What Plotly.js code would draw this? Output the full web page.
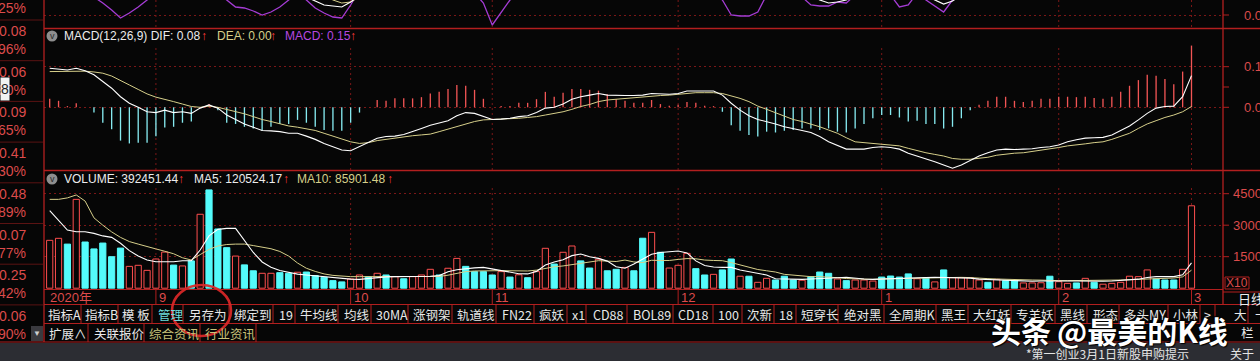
<!DOCTYPE html>
<html><head><meta charset="utf-8">
<script src="https://cdn.plot.ly/plotly-3.0.1.min.js"></script>
<style>html,body{margin:0;padding:0;background:#060606;overflow:hidden}#chart{width:1260px;height:361px}</style>
</head><body><div id="chart"></div>
<script>
const N = null;
// ---------------- DATA ----------------
const dates = [
"2020-08-14","2020-08-17","2020-08-18","2020-08-19","2020-08-20","2020-08-21","2020-08-24","2020-08-25","2020-08-26","2020-08-27","2020-08-28","2020-08-31",
"2020-09-01","2020-09-02","2020-09-03","2020-09-04","2020-09-07","2020-09-08","2020-09-09","2020-09-10","2020-09-11","2020-09-14","2020-09-15","2020-09-16","2020-09-17","2020-09-18","2020-09-21","2020-09-22","2020-09-23","2020-09-24","2020-09-25","2020-09-28","2020-09-29","2020-09-30",
"2020-10-09","2020-10-12","2020-10-13","2020-10-14","2020-10-15","2020-10-16","2020-10-19","2020-10-20","2020-10-21","2020-10-22","2020-10-23","2020-10-26","2020-10-27","2020-10-28","2020-10-29","2020-10-30",
"2020-11-02","2020-11-03","2020-11-04","2020-11-05","2020-11-06","2020-11-09","2020-11-10","2020-11-11","2020-11-12","2020-11-13","2020-11-16","2020-11-17","2020-11-18","2020-11-19","2020-11-20","2020-11-23","2020-11-24","2020-11-25","2020-11-26","2020-11-27","2020-11-30",
"2020-12-01","2020-12-02","2020-12-03","2020-12-04","2020-12-07","2020-12-08","2020-12-09","2020-12-10","2020-12-11","2020-12-14","2020-12-15","2020-12-16","2020-12-17","2020-12-18","2020-12-21","2020-12-22","2020-12-23","2020-12-24","2020-12-25","2020-12-28","2020-12-29","2020-12-30","2020-12-31",
"2021-01-04","2021-01-05","2021-01-06","2021-01-07","2021-01-08","2021-01-11","2021-01-12","2021-01-13","2021-01-14","2021-01-15","2021-01-18","2021-01-19","2021-01-20","2021-01-21","2021-01-22","2021-01-25","2021-01-26","2021-01-27","2021-01-28","2021-01-29",
"2021-02-01","2021-02-02","2021-02-03","2021-02-04","2021-02-05","2021-02-08","2021-02-09","2021-02-10","2021-02-18","2021-02-19","2021-02-22","2021-02-23","2021-02-24","2021-02-25","2021-02-26",
"2021-03-01"];

const monthLabels = ["2020年","9","10","11","12","1","2","3"];
const monthStarts = ["2020-08-14","2020-09-01","2020-10-09","2020-11-02","2020-12-01","2021-01-04","2021-02-01","2021-03-01"];

// 1 = up day (hollow red volume bar), 0 = down day (filled cyan)
const upDay = [1,1,0,1,0,0,0,0,0,1, 1,1,1,1,0,1,0,1,0,0, 0,1,0,0,1,1,0,0,1,0, 0,0,0,0,1,1,0,1,0,1,
 0,1,1,1,0,1,1,0,0,0, 0,1,0,1,0,1,1,0,1,1, 0,0,1,0,0,1,0,0,1,0, 1,1,1,0,0,1,0,0,1,0,
 1,1,0,0,0,1,0,0,0,1, 0,1,1,1,0,0,0,0,1,0, 1,0,1,1,1,1,0,1,0,0, 1,1,1,0,1,1,0,1,0,1,
 1,1,1,1,1,0,0,0,1,1];

const volume = [228000,237500,210000,423000,220000,187000,215000,150000,191000,104000,
 109000,85000,139000,172000,110000,106000,130000,352000,468000,282000,
 193000,153000,111000,83000,71000,71000,74000,71000,76000,77000,
 60000,52000,36000,30000,44000,63000,55000,71000,63000,55000,
 45000,55000,63000,90000,63000,95000,142000,104000,79000,79000,
 63000,79000,53000,64000,50000,79000,190000,115000,171000,201000,
 130000,96000,138000,83000,90000,99000,83000,238000,266000,171000,
 96000,109000,166000,93000,63000,66000,87000,139000,57000,57000,
 28000,47000,39000,57000,39000,38000,55000,77000,71000,44000,
 36000,39000,39000,34000,53000,58000,53000,68000,45000,50000,
 30000,87000,50000,50000,50000,39000,28000,42000,36000,36000,
 25000,25000,26000,57000,31000,23000,25000,47000,28000,19000,
 23000,28000,57000,55000,87000,44000,39000,39000,90000,392451.44];

const volMA5 = [369000,325000,277000,269000,269000,261000,249000,242000,214000,179000,
 153000,134000,126000,126000,126000,131000,131000,182000,249000,280000,
 285000,285000,230000,170000,125000,100000,84000,74000,67000,63000,
 59000,55000,50000,45000,43000,42000,47000,51000,54000,55000,
 55000,55000,56000,57000,60000,78000,88000,94000,97000,99000,
 92000,84000,79000,69000,68000,80000,110000,125000,135000,155000,
 163000,150000,142000,129000,102000,95000,115000,138000,162000,170000,
 174000,177000,168000,130000,108000,101000,99000,99000,87000,80000,
 72000,63000,45000,43000,42000,42000,44000,47000,48000,50000,
 52000,47000,44000,42000,44000,46000,48000,49000,50000,51000,
 52000,51000,50000,50000,48000,43000,41000,39000,39000,38000,
 36000,33000,34000,33000,33000,34000,34000,33000,33000,33000,
 34000,36000,40000,43000,51000,55000,55000,55000,64000,120524.17];

const volMA10 = [423000,423000,430000,444000,415000,335000,300000,268000,242000,222000,
 210000,197000,187000,176000,164000,145000,134000,160000,185000,201000,
 208000,210000,210000,203000,196000,188000,175000,153000,120000,95000,
 80000,68000,61000,57000,55000,55000,55000,55000,55000,55000,
 55000,55000,56000,58000,56000,62000,70000,79000,82000,83500,
 83500,83500,83000,82500,82000,86000,95000,102000,106000,112000,
 118000,125000,131000,129000,127000,134000,125000,122000,133000,132000,
 132000,137000,141000,140000,134000,132000,131000,122000,110000,98000,
 89000,83000,77000,66000,62000,56000,55000,55000,54000,50000,
 46000,44000,42500,42000,44000,45000,47000,48000,49500,50000,
 50500,51000,51700,51700,50500,47000,45500,43800,42000,40600,
 39500,39000,38500,36000,36000,36000,36000,36000,36000,36000,
 37500,39000,40500,42200,44000,45400,47000,48600,54000,85901.48];

const dif = [0.096,0.094,0.092,0.096,0.090,0.080,0.063,0.047,0.026,0.010,
 0.000,-0.011,-0.013,-0.007,-0.013,-0.011,-0.015,-0.002,0.006,-0.002,
 -0.019,-0.031,-0.041,-0.049,-0.057,-0.058,-0.060,-0.064,-0.064,-0.071,
 -0.079,-0.089,-0.097,-0.105,-0.107,-0.097,-0.085,-0.076,-0.072,-0.071,
 -0.067,-0.060,-0.052,-0.044,-0.038,-0.033,-0.021,-0.013,-0.015,-0.023,
 -0.030,-0.029,-0.027,-0.023,-0.021,-0.013,-0.002,0.000,0.008,0.020,
 0.026,0.030,0.034,0.030,0.029,0.029,0.029,0.030,0.034,0.033,
 0.032,0.034,0.040,0.040,0.040,0.040,0.030,0.010,-0.007,-0.021,
 -0.030,-0.035,-0.041,-0.048,-0.052,-0.057,-0.062,-0.072,-0.085,-0.094,
 -0.103,-0.103,-0.103,-0.099,-0.097,-0.099,-0.103,-0.113,-0.120,-0.126,
 -0.134,-0.142,-0.150,-0.142,-0.130,-0.120,-0.112,-0.105,-0.103,-0.104,
 -0.103,-0.102,-0.099,-0.097,-0.093,-0.085,-0.080,-0.076,-0.075,-0.074,
 -0.068,-0.057,-0.046,-0.031,-0.015,-0.002,0.002,0.003,0.026,0.078];

const dea = [0.088,0.088,0.089,0.089,0.089,0.087,0.084,0.077,0.067,0.055,
 0.044,0.033,0.025,0.020,0.014,0.008,0.002,0.000,0.003,0.000,
 -0.005,-0.011,-0.016,-0.023,-0.030,-0.035,-0.041,-0.046,-0.049,-0.053,
 -0.057,-0.064,-0.071,-0.077,-0.085,-0.089,-0.087,-0.082,-0.079,-0.076,
 -0.072,-0.070,-0.068,-0.066,-0.060,-0.054,-0.048,-0.041,-0.035,-0.031,
 -0.030,-0.030,-0.029,-0.027,-0.025,-0.023,-0.019,-0.015,-0.011,-0.005,
 0.002,0.007,0.014,0.018,0.020,0.022,0.024,0.026,0.028,0.029,
 0.030,0.032,0.034,0.036,0.036,0.036,0.034,0.028,0.022,0.014,
 0.003,-0.005,-0.013,-0.021,-0.030,-0.035,-0.041,-0.048,-0.056,-0.064,
 -0.075,-0.085,-0.087,-0.089,-0.091,-0.093,-0.095,-0.101,-0.107,-0.112,
 -0.116,-0.120,-0.126,-0.128,-0.128,-0.126,-0.123,-0.118,-0.115,-0.113,
 -0.112,-0.109,-0.105,-0.102,-0.099,-0.095,-0.093,-0.090,-0.087,-0.085,
 -0.079,-0.072,-0.064,-0.052,-0.041,-0.033,-0.025,-0.019,-0.011,0.002];

const macd = [0.021,0.016,0.003,0.010,0,-0.013,-0.038,-0.054,-0.082,-0.089,
 -0.087,-0.087,-0.071,-0.050,-0.048,-0.038,-0.035,0,0.008,-0.007,
 -0.038,-0.041,-0.048,-0.052,-0.058,-0.048,-0.041,-0.041,-0.031,-0.038,
 -0.048,-0.056,-0.058,-0.058,-0.038,-0.013,0,0.018,0.016,0.022,
 0.022,0.022,0.025,0.034,0.038,0.045,0.055,0.053,0.043,0.021,
 0,0.003,0.003,0.011,0.011,0.020,0.038,0.026,0.036,0.045,
 0.045,0.043,0.041,0.032,0.020,0.016,0.011,0.011,0.018,0.008,
 0.004,0.006,0.013,0.011,0.004,0.003,-0.011,-0.044,-0.058,-0.068,
 -0.072,-0.060,-0.062,-0.058,-0.056,-0.052,-0.052,-0.056,-0.052,-0.060,
 -0.062,-0.052,-0.041,-0.027,-0.019,-0.019,-0.025,-0.035,-0.033,-0.041,
 -0.041,-0.052,-0.048,-0.027,-0.007,0.006,0.016,0.026,0.026,0.016,
 0.013,0.016,0.021,0.021,0.026,0.026,0.025,0.026,0.023,0.021,
 0.026,0.038,0.053,0.067,0.080,0.078,0.070,0.057,0.088,0.152];

// upper (cropped) indicator panel: only the dips that reach into view
const topPurple = [N,N,N,N,22,18,12,5,-3,2, 8,15,22,N,N,N,N,N,N,22, 15,8,7,4,0,3,8,15,22,15,
 7,2,-2,-3,10,25,N,N,N,N, N,N,N,N,N,N,N,N,22,12, -10,2,15,22,N,N,N,N,N,N, N,N,N,N,N,N,N,N,N,N,
 N,N,N,N,N,22,15,0,-1,-1, 3,20,N,N,N,18,10,9,9,13, 12,20,N,N,N,20,8,10,22,15,
 9,3,15,22,N,N,N,N,N,N, N,N,N,N,N,N,N,N,N,N, N,N,N,N,N,N,N,N,N,N];
const topWhite = [N,N,N,N,N,N,N,N,N,N, N,N,N,N,N,N,N,N,N,N, N,N,N,N,N,N,N,N,N,18,
 14,10,9,8,13,20,N,N,N,N, N,N,N,N,N,N,N,N,N,N, N,N,N,N,N,N,N,N,N,N, N,N,N,N,N,N,N,N,N,N,
 N,N,N,N,N,N,N,N,N,N, N,N,N,N,N,N,20,15,12,13, 15,20,N,N,N,N,N,N,N,20,
 15,11,14,20,N,N,N,N,N,N, N,N,N,N,N,N,N,N,N,N, N,N,N,N,N,N,N,N,N,N];
const topYellow = [N,N,N,N,N,N,N,N,N,N, N,N,N,N,N,N,N,N,N,N, N,N,N,N,N,N,N,N,N,N,
 N,20,15,12,13,18,N,N,N,N, N,N,N,N,N,N,N,N,N,N, N,N,N,N,N,N,N,N,N,N, N,N,N,N,N,N,N,N,N,N,
 N,N,N,N,N,N,N,N,N,N, N,N,N,N,N,N,N,N,N,N, N,N,N,N,N,N,N,N,N,N,
 N,N,N,N,N,N,N,N,N,N, N,N,N,N,N,N,N,N,N,N, N,N,N,N,N,N,N,N,N,N];

const macdTicks = [0, 0.1];
const volTicks = [150000, 300000, 450000];
const leftStripLabels = ["25%","0.08","96%","0.06","90%","0.09","65%","0.41","30%","0.48","89%","0.07","77%","0.25","42%","0.06","90%"];
const row1Labels = ["指标A","指标B","模 板","管理","另存为","绑定到","19","牛均线","均线","30MA","涨钢架","轨道线","FN22","疯妖","x1","CD88","BOL89","CD18","100","次新","18","短穿长","绝对黑","全周期K","黑王","大红妖","专羊妖","黑线","形态","多头MY","小林","&gt;"];
const row2Labels = ["扩展∧","关联报价","综合资讯","行业资讯"];

// ---------------- LAYOUT HELPERS ----------------
const W = 1260, H = 361;
const PX = x => x / W, PY = y => 1 - y / H;
const SANS = 'Liberation Sans, Arial, Noto Sans CJK SC, sans-serif';
const CJK = 'Noto Sans CJK SC, sans-serif';
const RED = '#b21f1f', GRID = '#7a1717', LBL = '#dc4b4b';
const shapes = [], annotations = [];
function ann(x, y, text, color, size, family, anchor, extra) {
  return Object.assign({xref:'paper', yref:'paper', x:PX(x), y:PY(y), text:text, showarrow:false,
    xanchor:anchor || 'left', yanchor:'middle', borderpad:0,
    font:{family:family || SANS, size:size || 12, color:color || '#e8e8e8'}}, extra || {});
}
function ln(x0, y0, x1, y1, color, width, dash, layer) {
  return {type:'line', xref:'paper', yref:'paper', x0:PX(x0), y0:PY(y0), x1:PX(x1), y1:PY(y1),
    line:{color:color, width:width || 1, dash:dash || 'solid'}, layer:layer || 'above'};
}
function rc(x0, y0, x1, y1, fill, lineColor, layer) {
  return {type:'rect', xref:'paper', yref:'paper', x0:PX(x0), y0:PY(y1), x1:PX(x1), y1:PY(y0),
    fillcolor:fill || 'rgba(0,0,0,0)', line:{color:lineColor || 'rgba(0,0,0,0)', width:lineColor ? 1 : 0}, layer:layer || 'above'};
}

// bottom status strip
shapes.push(rc(0, 343, 1260, 361, '#2c2d33', null, 'below'));
// frame lines
shapes.push(ln(44, 0, 44, 342, RED, 1.3));
shapes.push(ln(1223, 0, 1223, 304, RED, 1.3));
shapes.push(ln(44, 28.5, 1260, 28.5, RED, 1.3));
shapes.push(ln(44, 170.5, 1260, 170.5, RED, 1.3));
shapes.push(ln(44, 289.5, 1223, 289.5, RED, 1));
shapes.push(ln(1223, 292, 1260, 292, RED, 1));
shapes.push(ln(44, 304.5, 1260, 304.5, RED, 1));
shapes.push(ln(44, 323.5, 1260, 323.5, RED, 1));
shapes.push(ln(0, 342, 1260, 342, RED, 1));
// left strip
for (let k = 0; k < 8; k++) { const y = 20 + 40.7 * k; shapes.push(ln(0, y, 43, y, '#5a1313', 1)); }
leftStripLabels.forEach((t, k) => {
  const y = (k % 2 === 1) ? 31 + 40.7 * (k - 1) / 2 : 49 + 40.7 * (k / 2 - 1);
  annotations.push(ann(26.5, y, t, LBL, 14, SANS, 'right'));
});
annotations.push(Object.assign(ann(0, 89, '8', '#222', 14, SANS, 'left'), {bgcolor:'#f2f2f2', width:8, height:22, align:'right'}));

// month gridlines, ticks, labels
const gridDash = '2px,3px';
monthStarts.forEach((d, k) => {
  const idx = dates.indexOf(d);
  if (k > 0) {
    [[0, 28], [48, 170], [188, 289]].forEach(([a, b]) => shapes.push({type:'line', xref:'x', yref:'paper',
      x0:idx, x1:idx, y0:PY(a), y1:PY(b), line:{color:GRID, width:1, dash:gridDash}, layer:'below'}));
    shapes.push({type:'line', xref:'x', yref:'paper', x0:idx, x1:idx, y0:PY(290), y1:PY(304), line:{color:RED, width:1}});
  }
  annotations.push({xref:'x', yref:'paper', x:idx, y:PY(297.5), xanchor:'left', yanchor:'middle', xshift:k === 0 ? -2 : 1,
    text:monthLabels[k], showarrow:false, font:{family:SANS, size:13, color:LBL}});
});

// right axis ticks + labels
function rtick(yref, v) { return {type:'line', xref:'paper', yref:yref, x0:PX(1223), x1:PX(1229), y0:v, y1:v, line:{color:RED, width:1}}; }
[0, 0.05, 0.1].forEach(v => shapes.push(rtick('y', v)));
macdTicks.forEach(v => annotations.push({xref:'paper', yref:'y', x:PX(1271), y:v, xanchor:'right', yanchor:'middle', showarrow:false,
  text:v.toFixed(2), font:{family:SANS, size:13, color:LBL}}));
volTicks.forEach(v => { shapes.push(rtick('y2', v));
  annotations.push({xref:'paper', yref:'y2', x:PX(1271), y:v, xanchor:'right', yanchor:'middle', showarrow:false,
  text:String(v / 10), font:{family:SANS, size:13, color:LBL}}); });
shapes.push(rtick('y3', 0));
annotations.push({xref:'paper', yref:'y3', x:PX(1271), y:0, xanchor:'right', yanchor:'middle', showarrow:false,
  text:'0.00', font:{family:SANS, size:13, color:LBL}});
shapes.push(rc(1225, 277, 1249, 289, null, RED));
annotations.push(ann(1237, 283, 'X10', LBL, 12, SANS, 'center'));
annotations.push(ann(1237, 298, '日线', '#eeeeee', 13, CJK, 'left'));

// panel headers
const n = dates.length;
function icon(cy) {
  shapes.push({type:'circle', xref:'paper', yref:'paper', x0:PX(46.5), x1:PX(57.5), y0:PY(cy + 5.5), y1:PY(cy - 5.5),
    fillcolor:'#8e8e8e', line:{width:0}});
  annotations.push(ann(52, cy, 'v', '#2a2a2a', 9, SANS, 'center'));
}
icon(36); icon(179);
const ARW = '#ff3b3b';
const hdr1 = ['MACD(12,26,9) DIF: ' + dif[n - 1].toFixed(2), 'DEA: ' + dea[n - 1].toFixed(2), 'MACD: ' + macd[n - 1].toFixed(2)];
annotations.push(ann(63, 36, hdr1[0], '#ececec', 12));
annotations.push(ann(200, 36, '↑', ARW, 12));
annotations.push(ann(216, 36, hdr1[1], '#d6cf8a', 12));
annotations.push(ann(269, 36, '↑', ARW, 12));
annotations.push(ann(284, 36, hdr1[2], '#b648e0', 12));
annotations.push(ann(349, 36, '↑', ARW, 12));
const hdr2 = ['VOLUME: ' + volume[n - 1].toFixed(2), 'MA5: ' + volMA5[n - 1].toFixed(2), 'MA10: ' + volMA10[n - 1].toFixed(2)];
annotations.push(ann(63, 179, hdr2[0], '#ececec', 12));
annotations.push(ann(177, 179, '↑', ARW, 12));
annotations.push(ann(193, 179, hdr2[1], '#ececec', 12));
annotations.push(ann(282, 179, '↑', ARW, 12));
annotations.push(ann(296, 179, hdr2[2], '#d6cf8a', 12));
annotations.push(ann(386, 179, '↑', ARW, 12));

// button rows
const row1X = [47,84,121,157,188,233,278,299,343,375,412,456,501,538,571,592,632,677,717,746,778,800,843,888,940,972,1015,1059,1092,1123,1172,1203];
const row1Sep = [81,118,152,183,229,273,295,338,371,408,452,496,534,567,586,627,673,713,742,774,796,838,884,936,968,1011,1055,1087,1119,1168,1200,1215,1248];
row1Sep.forEach(x => shapes.push(ln(x, 305, x, 323, RED, 1)));
row1Labels.forEach((t, k) => annotations.push(ann(row1X[k], 314.5, t, t === '管理' ? '#6fdcdc' : '#e8e8e8', 12.5, CJK)));
annotations.push(ann(1233, 314.5, '大', '#e8e8e8', 12.5, CJK));
annotations.push(ann(1254, 314.5, '十', '#e8e8e8', 12.5, CJK));
const row2X = [48, 93, 148, 204];
const row2Sep = [88, 144, 200, 256];
row2Sep.forEach(x => shapes.push(ln(x, 324, x, 342, RED, 1)));
row2Labels.forEach((t, k) => annotations.push(ann(row2X[k], 333, t, k >= 2 ? '#c9c37c' : '#e8e8e8', 12.5, CJK)));
annotations.push(ann(1240, 332, '栏', '#e8e8e8', 12.5, CJK));
shapes.push(rc(31, 326, 43, 341, '#3a3a3f', null));
annotations.push(ann(37, 333.5, '▼', '#cfcfcf', 8, SANS, 'center'));

// status strip
annotations.push(ann(1025, 353, '*第一创业3月1日新股申购提示', '#e4e4e4', 12, CJK));
annotations.push(ann(1229, 353, '关于“', '#e4e4e4', 12, CJK));

// highlight circle
shapes.push({type:'circle', xref:'paper', yref:'paper', x0:PX(172), x1:PX(231), y0:PY(336), y1:PY(285),
  line:{color:'rgba(220,40,40,0.92)', width:2.6}});

// watermark
const wm = {family:CJK, size:30, color:'#ffffff', weight:700, shadow:'1px 1px 1px #000, -1px -1px 1px #000'};
annotations.push(Object.assign(ann(990, 330, '头条', '#fff', 30, CJK), {font:wm}));
annotations.push(Object.assign(ann(1056, 330, '@最美的K线', '#fff', 30, CJK), {font:wm}));

// ---------------- TRACES ----------------
const RED_BAR = '#ff4f4f', CYAN = '#54fbfb';
const traces = [
  {x:dates, y:topPurple, yaxis:'y3', type:'scatter', mode:'lines', line:{color:'#a43cd4', width:1.3}, connectgaps:false, hoverinfo:'skip'},
  {x:dates, y:topYellow, yaxis:'y3', type:'scatter', mode:'lines', line:{color:'#d6cf8a', width:1}, connectgaps:false, hoverinfo:'skip'},
  {x:dates, y:topWhite, yaxis:'y3', type:'scatter', mode:'lines', line:{color:'#ffffff', width:1.2}, connectgaps:false, hoverinfo:'skip'},
  {x:dates, y:macd, yaxis:'y', type:'bar', width:0.15,
    marker:{color:macd.map(v => v >= 0 ? '#f25555' : '#86eaf0'), line:{width:0}}, hoverinfo:'skip'},
  {x:dates, y:dea, yaxis:'y', type:'scatter', mode:'lines', line:{color:'#d6cf8a', width:1}, hoverinfo:'skip'},
  {x:dates, y:dif, yaxis:'y', type:'scatter', mode:'lines', line:{color:'#ffffff', width:1.1}, hoverinfo:'skip'},
  {x:dates, y:volume, yaxis:'y2', type:'bar', width:0.7,
    marker:{color:upDay.map(u => u ? '#060606' : CYAN), line:{color:upDay.map(u => u ? RED_BAR : CYAN), width:1}}, hoverinfo:'skip'},
  {x:dates, y:volMA10, yaxis:'y2', type:'scatter', mode:'lines', line:{color:'#d6cf8a', width:1}, hoverinfo:'skip'},
  {x:dates, y:volMA5, yaxis:'y2', type:'scatter', mode:'lines', line:{color:'#ffffff', width:1.1}, hoverinfo:'skip'}
];

const yCommon = {showticklabels:false, ticks:'', showgrid:true, gridcolor:GRID, griddash:gridDash, gridwidth:1,
  zeroline:false, showline:false, fixedrange:true, anchor:'x'};
const layout = {
  width:W, height:H, margin:{l:0, r:0, t:0, b:0, pad:0},
  paper_bgcolor:'#060606', plot_bgcolor:'rgba(0,0,0,0)', showlegend:false, barmode:'overlay',
  xaxis:{type:'category', domain:[PX(44), PX(1223)], range:[-0.644, 132.56], showgrid:false, showticklabels:false,
    ticks:'', zeroline:false, showline:false, fixedrange:true, anchor:'y2'},
  yaxis:Object.assign({}, yCommon, {domain:[PY(170), PY(28)], range:[-0.1544, 0.1953], tickvals:macdTicks}),
  yaxis2:Object.assign({}, yCommon, {domain:[PY(289), PY(170)], range:[-3810, 562857], tickvals:volTicks}),
  yaxis3:Object.assign({}, yCommon, {domain:[PY(28), 1], range:[-13, 15], tickvals:[0]}),
  shapes:shapes, annotations:annotations
};
Plotly.newPlot('chart', traces, layout, {staticPlot:true, displayModeBar:false});
</script></body></html>
